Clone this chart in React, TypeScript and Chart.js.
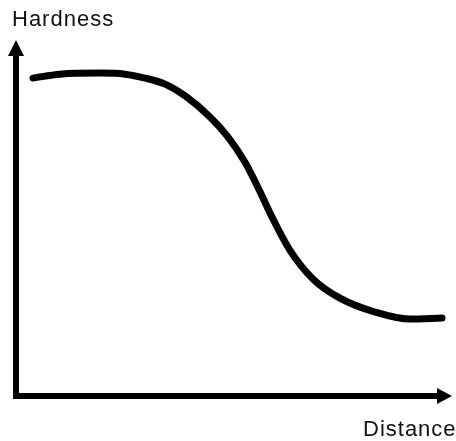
import React, { useEffect, useRef } from "react";
import { Chart, registerables } from "chart.js";

Chart.register(...registerables);

const distance = [3.9, 10.1, 19.3, 25.0, 29.6, 34.2, 38.8, 44.5, 48.6, 52.5, 56.0, 58.7, 62.8, 68.1, 74.3, 82.3, 90.4, 97.7];
const hardness = [89.3, 90.4, 90.7, 90.4, 89.3, 87.6, 84.3, 78.4, 72.8, 65.7, 57.3, 50.3, 41.0, 32.9, 27.5, 23.6, 21.6, 21.9];
const yLabel = "Hardness";
const xLabel = "Distance";

const arrowAxes = {
  id: "arrowAxes",
  afterDraw(chart: any) {
    const { ctx, chartArea } = chart;
    const { left, right, top, bottom } = chartArea;
    ctx.save();
    ctx.fillStyle = "#000";
    ctx.strokeStyle = "#000";
    ctx.lineWidth = 6;
    ctx.lineCap = "butt";
    ctx.beginPath();
    ctx.moveTo(left, bottom + 3);
    ctx.lineTo(left, top + 12);
    ctx.stroke();
    ctx.beginPath();
    ctx.moveTo(left - 3, bottom);
    ctx.lineTo(right - 12, bottom);
    ctx.stroke();
    // y arrow
    ctx.beginPath();
    ctx.moveTo(left, top);
    ctx.lineTo(left - 8, top + 16);
    ctx.lineTo(left + 8, top + 16);
    ctx.closePath();
    ctx.fill();
    // x arrow
    ctx.beginPath();
    ctx.moveTo(right, bottom);
    ctx.lineTo(right - 15, bottom - 8);
    ctx.lineTo(right - 15, bottom + 8);
    ctx.closePath();
    ctx.fill();
    ctx.restore();
  },
};

export default function App() {
  const ref = useRef<HTMLCanvasElement | null>(null);
  useEffect(() => {
    if (!ref.current) return;
    const chart = new Chart(ref.current, {
      type: "line",
      data: {
        datasets: [
          {
            data: distance.map((d, i) => ({ x: d, y: hardness[i] })),
            borderColor: "#000",
            borderWidth: 7,
            borderCapStyle: "round",
            borderJoinStyle: "round",
            pointRadius: 0,
            cubicInterpolationMode: "monotone",
            fill: false,
          },
        ],
      },
      options: {
        responsive: false,
        animation: false,
        layout: { padding: { left: 16, right: 4, top: 40, bottom: 45 } },
        plugins: { legend: { display: false }, tooltip: { enabled: false }, title: { display: false } },
        scales: {
          x: { type: "linear", min: 0, max: 100, display: false },
          y: { type: "linear", min: 0, max: 100, display: false },
        },
      },
      plugins: [arrowAxes],
    });
    return () => chart.destroy();
  }, []);

  const textStyle: React.CSSProperties = {
    position: "absolute",
    fontFamily: "'Liberation Sans', Arial, sans-serif",
    fontSize: 22,
    lineHeight: "22px",
    letterSpacing: "1px",
    color: "#111",
    whiteSpace: "nowrap",
  };

  return (
    <div style={{ position: "absolute", left: 0, top: 0, width: 456, height: 441, background: "#fff" }}>
      <canvas ref={ref} width={456} height={441} style={{ position: "absolute", left: 0, top: 0 }} />
      <div style={{ ...textStyle, left: 12, top: 8 }}>{yLabel}</div>
      <div style={{ ...textStyle, left: 363, top: 418 }}>{xLabel}</div>
    </div>
  );
}
